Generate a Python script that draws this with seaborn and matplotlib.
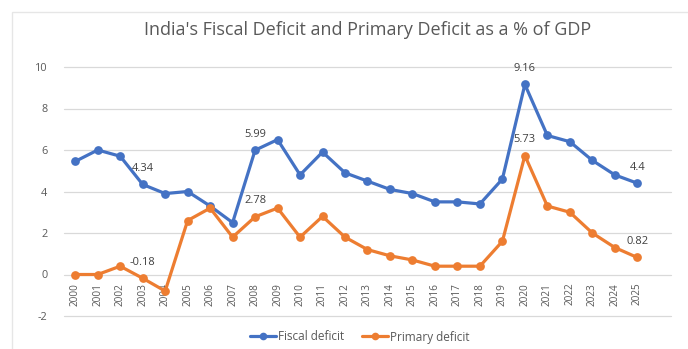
import matplotlib
matplotlib.use("Agg")
import matplotlib.pyplot as plt
from matplotlib.lines import Line2D
from matplotlib.patches import Rectangle
import numpy as np
import pandas as pd
import seaborn as sns

years = list(range(2000, 2026))
fiscal_deficit = [5.45, 6.0, 5.7, 4.34, 3.9, 4.0, 3.3, 2.5, 5.99, 6.5, 4.8, 5.9, 4.9,
                  4.5, 4.1, 3.9, 3.5, 3.5, 3.4, 4.6, 9.16, 6.7, 6.4, 5.5, 4.8, 4.4]
primary_deficit = [0.0, 0.0, 0.4, -0.18, -0.8, 2.6, 3.2, 1.8, 2.78, 3.2, 1.8, 2.8, 1.8,
                   1.2, 0.9, 0.7, 0.4, 0.4, 0.4, 1.6, 5.73, 3.3, 3.0, 2.0, 1.3, 0.82]
series_names = ["Fiscal deficit", "Primary deficit"]
labelled_fiscal = [2003, 2008, 2020, 2025]
labelled_primary = [2003, 2008, 2020, 2025]
y_ticks = [-2, 0, 2, 4, 6, 8, 10]

BLUE = "#4472C4"
ORANGE = "#ED7D31"
GREY_TXT = "#595959"

df = pd.DataFrame({
    "year": years * 2,
    "value": fiscal_deficit + primary_deficit,
    "series": [series_names[0]] * len(years) + [series_names[1]] * len(years),
})

sns.set_theme(style="white")
plt.rcParams["font.family"] = ["Open Sans", "DejaVu Sans"]
plt.rcParams["axes.unicode_minus"] = False

W, H = 688, 349
fig = plt.figure(figsize=(W / 100, H / 100), dpi=100)

# faint chart-area border
fig.patches.append(Rectangle((12 / W, -0.05), 1.2, (H - 12) / H + 0.05,
                             transform=fig.transFigure, fill=False,
                             edgecolor="#e6e6e6", linewidth=1.0, zorder=0))

ymin, ymax = -2, 10
top_px, bot_px = 67, 316
left_px, right_px = 64, 671
ax = fig.add_axes([left_px / W, (H - bot_px) / H,
                   (right_px - left_px) / W, (bot_px - top_px) / H])

sns.lineplot(data=df, x="year", y="value", hue="series",
             palette={series_names[0]: BLUE, series_names[1]: ORANGE},
             marker="o", markersize=6.3, markeredgewidth=0, linewidth=2.3,
             legend=False, ax=ax, zorder=3)

ax.set_xlim(1999.5, 2026.5)
ax.set_ylim(ymin, ymax)
ax.set_yticks(y_ticks)
ax.grid(axis="y", color="#d9d9d9", linewidth=0.9, zorder=0)
for gl in ax.get_ygridlines():
    gl.set_clip_on(False)
for side in ["left", "right", "top"]:
    ax.spines[side].set_visible(False)
# category axis crosses the value axis at zero
ax.spines["bottom"].set_position(("data", 0))
ax.spines["bottom"].set_visible(False)
ax.set_xticks(years)
ax.set_xticklabels([str(y) for y in years])
ax.tick_params(axis="x", length=0, pad=6, labelsize=7.2, labelcolor=GREY_TXT,
               labelrotation=90)
ax.tick_params(axis="y", length=0, pad=12, labelsize=7.8, labelcolor=GREY_TXT)
ax.set_xlabel("")
ax.set_ylabel("")

# value labels above selected points
for yr in labelled_fiscal:
    v = fiscal_deficit[years.index(yr)]
    ax.annotate(f"{v:g}", (yr, v), xytext=(0, 11.5), textcoords="offset points",
                ha="center", va="center", fontsize=8, color="#404040", zorder=5)
for yr in labelled_primary:
    v = primary_deficit[years.index(yr)]
    ax.annotate(f"{v:g}", (yr, v), xytext=(0, 11.5), textcoords="offset points",
                ha="center", va="center", fontsize=8, color="#404040", zorder=5)

fig.text(368 / W, 1 - 30 / H, "India's Fiscal Deficit and Primary Deficit as a % of GDP",
         ha="center", va="center", fontsize=13, color=GREY_TXT)

handles = [Line2D([], [], color=BLUE, marker="o", markersize=5.5, linewidth=2.3, markeredgewidth=0),
           Line2D([], [], color=ORANGE, marker="o", markersize=5.5, linewidth=2.3, markeredgewidth=0)]
fig.legend(handles, series_names, loc="center", bbox_to_anchor=(360 / W, 1 - 337 / H),
           ncol=2, frameon=False, fontsize=8.5, labelcolor=GREY_TXT,
           handlelength=2.2, handletextpad=0.2, columnspacing=1.5)

fig.savefig("out.png", dpi=100)
